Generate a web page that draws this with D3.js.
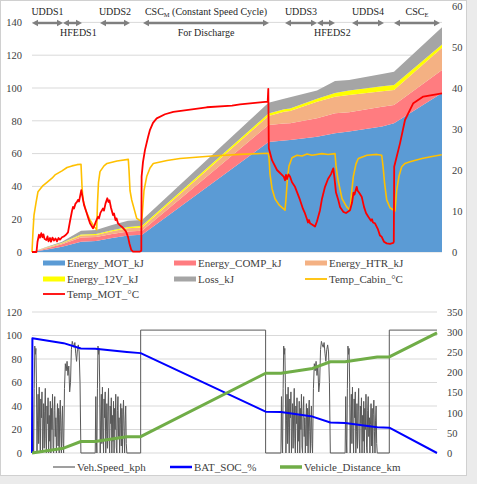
<!DOCTYPE html>
<html><head><meta charset="utf-8">
<script src="https://cdn.jsdelivr.net/npm/d3@7"></script>
<style>html,body{margin:0;padding:0;background:#fff;} svg{display:block;}</style>
</head><body><svg id="c" width="477" height="484" font-family="'Liberation Serif'"></svg>
<script>
// ---------------- DATA ----------------
// Time axis in arbitrary test-time units (0 .. 410)
const energyTime = [0,15,30,49,64,80,96,110,236.5,252,258,285,303,317,350,362,410];
const energyMOT  = [0,1.5,3.2,6.3,6.7,8.5,10,10.5,67,68,68.3,70.3,72.4,73.4,76.5,78.5,97];
const energyCOMP = [0,0.8,1.5,2.6,2.5,2.5,2.5,2.5,10.5,10.3,10.2,11.2,12.2,11.8,12,11.1,14];
const energyHTR  = [0,0.4,0.6,1.1,1.2,1.6,2.0,2.0,5.5,7.2,7.5,10.1,10.1,10.5,9.5,9.2,13.5];
const energy12V  = [0,0.2,0.3,0.6,0.6,0.6,0.8,1.0,1.5,1.5,1.5,1.9,2.3,2.7,3,3,2];
const lossKJ     = [0,0.3,0.7,2.4,2.4,3.3,3.7,3.5,6.5,6.5,6.8,4.9,7.3,6.5,7.5,8.1,10.5];

const tempCabin = [[0,0],[1,5],[2,9],[4,12],[6,14.7],[8,15.3],[11,16.2],[15,17],[20,18],[23,18.8],[30,19.8],[35,20.6],[40,21],[45,21.3],[49,21.4],[50,16],[51,12.7],[54,10],[58,7.8],[62,6.2],[64.7,5.4],[65.5,12],[66.5,17],[68,19.6],[72,21],[75,21.6],[85,22.2],[96.3,22.6],[97,20],[98,15],[99.7,12.7],[104.7,8.2],[109.7,7.4],[110.5,10],[112,15],[114.7,18.4],[118,20.5],[121.3,21.6],[135,22.3],[148,22.8],[180,23.4],[208,23.8],[236.3,24.1],[237,23],[238,19],[240,15.5],[243,13],[247,11.5],[253,10.2],[254,13],[255.5,18],[257,21],[260,23],[265,23.6],[270,23.4],[275,23.9],[280,23.6],[290,24],[296,23.8],[303,24],[304,21],[306,17.6],[310,13],[314.7,11],[318,10.2],[319,13],[321.3,18.4],[324,21.5],[326.3,22.8],[335,23.6],[345,23.8],[349.7,23.6],[351,21],[352.5,17],[354.7,12.7],[358,10.8],[363,10],[364.7,15.1],[367,18.5],[369.7,20.8],[373,21.6],[378,22],[390,22.8],[400,23.3],[409.7,23.7]];

const tempMOT = [[0,0],[4.5,0],[5.5,2.5],[7,4.2],[8,3.5],[9.3,4.6],[10.5,3.6],[11.5,4.3],[12.5,3.2],[14.3,2.9],[15.5,3.8],[16.5,2.6],[18,3.4],[19,2.5],[20.5,3.5],[22,2.8],[23.5,3.3],[25,2.6],[26.5,3.4],[28,3],[30,3.6],[32,3.8],[34,4.2],[36,4.8],[38,7.5],[40,10],[41,11],[42,10.6],[43.5,11.8],[45,12.2],[46,12.7],[47,12.3],[48,13.5],[49.3,15.1],[50.5,13.5],[52,11.5],[54.3,9.8],[56,8.5],[58,7],[61,5.8],[62.5,6.5],[64,7.5],[66,8.6],[67,8.2],[68.5,9.6],[71,10.6],[72,10.1],[73.5,11.8],[75.3,13.1],[76.5,12.2],[77.5,12.6],[79,10.8],[81,9],[82,9.4],[83.5,7.8],[84.5,8.2],[86,7],[88,6.5],[90,6.1],[92.7,5.4],[94,5],[96,3.7],[97.5,2],[99.3,0.5],[101,0.1],[108,0.1],[109.3,0.3],[109.6,18.4],[111,22],[113,24.9],[116,28],[118,29.8],[121,31.5],[124.7,32.6],[133,33.6],[141.3,34.2],[160,34.8],[174.7,35.3],[200,35.7],[208,36],[235.7,36.7],[236.3,39.8],[236.8,25.3],[240,22.4],[245,20],[251.7,18.4],[253,17.5],[254,18.8],[255,17.8],[256.5,18.9],[258,18.4],[260,17],[263,15.9],[266,14],[268,12.7],[271,10.5],[273,9.4],[275,8],[276,7.2],[277,7.8],[278,7],[280,6.7],[283,6.2],[285,7.5],[288,10.2],[290,13],[293,15.9],[296,17.8],[299,19],[301.3,20.4],[302.5,18],[304,14.5],[306.3,12.7],[308,11],[311.3,9.8],[314,9.5],[318,10.2],[320,12],[321.5,14.5],[322.5,14],[324.7,15.9],[325.5,15],[327,14.5],[329.7,13.5],[332,11],[334,9.5],[336.3,8.6],[338,8],[339,7.6],[340,8],[341,7.2],[343,7],[346,5.5],[348,4],[349.7,3.7],[352,2.5],[354.7,2.1],[358,2.0],[361.3,2.2],[361.8,2.5],[362.2,20.8],[368,26.5],[373,32.2],[381.3,36.3],[391.3,37.9],[410,38.7]];

// Vehicle speed: drive-cycle profiles (kph) placed at their phase times
const uddsProfile  = [0,48,12,0,55,91,84,89,60,0,28,50,8,56,22,0,46,30,52,0,18,42,4,35,55,12,0,40,25,47,0,32,10,44,0,38,20,50,5,0,36,48,14,30,0,24,42,6,38,0,33,45,18,0,28,40,8,0];
const hfedsProfile = [0,55,76,70,78,66,74,52,60,88,95,92,90,94,85,78,88,92,86,60,0];
const cscSpeed = 104.6;
const drivePhases = [
  {cycle:"UDDS",  t0:0,     t1:32},
  {cycle:"HFEDS", t0:32,    t1:49.5},
  {cycle:"UDDS",  t0:64,    t1:96},
  {cycle:"CSC",   t0:110,   t1:236.5},
  {cycle:"UDDS",  t0:252,   t1:284},
  {cycle:"HFEDS", t0:284,   t1:302},
  {cycle:"UDDS",  t0:317,   t1:349.5},
  {cycle:"CSC",   t0:361.7, t1:410, hold:true}
];
const batSOC = [[0,0],[0.4,97.6],[32,93.5],[49.5,89],[64,88.7],[96,86],[110,85],[236.5,35.2],[252,34.8],[284,31],[302,26],[317,25.5],[349.5,22],[361.7,21.5],[410,0]];
const vehDistance = [[0,0],[32,12],[49.5,28.5],[64,28.5],[96,40.5],[110,40.5],[236.5,198],[252,198],[284,210],[302,226.5],[317,226.5],[349.5,238.5],[361.7,238.5],[410,298]];

// Cycle annotations (arrow spans in time units)
const cycleNotes = [
  {text:"UDDS1",  t0:0,   t1:31,  row:"upper"},
  {text:"HFEDS1", t0:31,  t1:50,  row:"lower"},
  {text:"UDDS2",  t0:68,  t1:98,  row:"upper"},
  {text:"CSC", sub:"M", rest:" (Constant Speed Cycle)", t0:111, t1:237, row:"upper", note:"For Discharge"},
  {text:"UDDS3",  t0:253, t1:285, row:"upper"},
  {text:"HFEDS2", t0:285, t1:303, row:"lower"},
  {text:"UDDS4",  t0:320, t1:352, row:"upper"},
  {text:"CSC", sub:"E", rest:"", t0:362, t1:408, row:"upper"}
];

const topLeftTicks = [0,20,40,60,80,100,120,140];
const topRightTicks = [0,10,20,30,40,50,60];
const botLeftTicks = [0,20,40,60,80,100,120];
const botRightTicks = [0,50,100,150,200,250,300,350];

const energyKeys = ["Energy_MOT_kJ","Energy_COMP_kJ","Energy_HTR_kJ","Energy_12V_kJ","Loss_kJ"];
const energyColors = ["#5B9BD5","#FF7C80","#F4B183","#FFFF00","#A5A5A5"];
const topLegend = [
  {name:"Energy_MOT_kJ", color:"#5B9BD5", kind:"area"},
  {name:"Energy_COMP_kJ", color:"#FF7C80", kind:"area"},
  {name:"Energy_HTR_kJ", color:"#F4B183", kind:"area"},
  {name:"Energy_12V_kJ", color:"#FFFF00", kind:"area"},
  {name:"Loss_kJ", color:"#A5A5A5", kind:"area"},
  {name:"Temp_Cabin_°C", color:"#FFC000", kind:"line"},
  {name:"Temp_MOT_°C", color:"#FF0000", kind:"line"}
];
const botLegend = [
  {name:"Veh.Speed_kph", color:"#7F7F7F", w:1.5},
  {name:"BAT_SOC_%", color:"#0000FF", w:2.5},
  {name:"Vehicle_Distance_km", color:"#70AD47", w:3.5}
];

// ---------------- DRAW ----------------
const svg = d3.select("#c");
const textColor = "#404040", gridColor = "#D9D9D9";
const FONT = "'Liberation Serif'";

// frame
svg.append("rect").attr("x",0).attr("y",0).attr("width",477).attr("height",484).attr("fill","#fff");
svg.append("rect").attr("x",467).attr("y",0).attr("width",10).attr("height",484).attr("fill","#EBEBEB");
svg.append("rect").attr("x",0).attr("y",476).attr("width",477).attr("height",8).attr("fill","#EBEBEB");
svg.append("rect").attr("x",0.5).attr("y",0.5).attr("width",466).attr("height",475).attr("fill","#fff").attr("stroke","#D0D0D0");

// ---- TOP CHART ----
const T = {left:32, right:442, top:6, bottom:252};
const xT = d3.scaleLinear().domain([0,410]).range([T.left,T.right]);
const yTL = d3.scaleLinear().domain([0,150]).range([T.bottom,T.top]);
const yTR = d3.scaleLinear().domain([0,60]).range([T.bottom,T.top]);

const gT = svg.append("g");
gT.selectAll("line.grid").data(topLeftTicks).join("line")
  .attr("x1",T.left).attr("x2",T.right).attr("y1",d=>yTL(d)).attr("y2",d=>yTL(d))
  .attr("stroke",gridColor).attr("stroke-width",1);

const energyTable = energyTime.map((t,i)=>({t,
  "Energy_MOT_kJ":energyMOT[i],"Energy_COMP_kJ":energyCOMP[i],"Energy_HTR_kJ":energyHTR[i],
  "Energy_12V_kJ":energy12V[i],"Loss_kJ":lossKJ[i]}));
const stacked = d3.stack().keys(energyKeys)(energyTable);
const area = d3.area().x(d=>xT(d.data.t)).y0(d=>yTL(d[0])).y1(d=>yTL(d[1]));
gT.selectAll("path.layer").data(stacked).join("path")
  .attr("d",area).attr("fill",(d,i)=>energyColors[i]);

const lineT = d3.line().x(d=>xT(d[0])).y(d=>yTR(d[1]));
gT.append("path").attr("d",lineT(tempCabin)).attr("fill","none").attr("stroke","#FFC000").attr("stroke-width",1.6).attr("stroke-linejoin","round");
gT.append("path").attr("d",lineT(tempMOT)).attr("fill","none").attr("stroke","#FF0000").attr("stroke-width",1.8).attr("stroke-linejoin","round");

// axes
const axTL = d3.axisLeft(yTL).tickValues(topLeftTicks).tickSize(0).tickPadding(10);
const axTR = d3.axisRight(yTR).tickValues(topRightTicks).tickSize(0).tickPadding(10);
function styleAxis(g){ g.attr("font-family",FONT).attr("font-size",10.5); g.select(".domain").remove(); g.selectAll("text").attr("fill",textColor); }
gT.append("g").attr("transform",`translate(${T.left},0)`).call(axTL).call(styleAxis);
gT.append("g").attr("transform",`translate(${T.right},0)`).call(axTR).call(styleAxis);

// cycle annotations
const arrowY = 23, arrowCol = "#7F7F7F";
cycleNotes.forEach(n=>{
  const a = xT(n.t0), b = xT(n.t1), hl = 6, hw = 3.3;
  gT.append("line").attr("x1",a+hl-1).attr("x2",b-hl+1).attr("y1",arrowY).attr("y2",arrowY).attr("stroke",arrowCol).attr("stroke-width",2.4);
  gT.append("path").attr("d",`M${a},${arrowY}L${a+hl},${arrowY-hw}L${a+hl},${arrowY+hw}Z M${b},${arrowY}L${b-hl},${arrowY-hw}L${b-hl},${arrowY+hw}Z`).attr("fill",arrowCol);
  const txt = gT.append("text").attr("fill","#262626").attr("font-family",FONT).attr("font-size",10);
  if(n.row==="upper"){
    txt.attr("x",(a+b)/2).attr("y",15).attr("text-anchor","middle");
  } else {
    txt.attr("x",a-3).attr("y",36).attr("text-anchor","start");
  }
  txt.append("tspan").text(n.text);
  if(n.sub){
    txt.append("tspan").attr("font-size",6.5).attr("dy",2).text(n.sub);
    txt.append("tspan").attr("dy",-2).text(n.rest);
  }
  if(n.note){
    gT.append("text").attr("x",(a+b)/2).attr("y",36).attr("text-anchor","middle").attr("fill","#262626").attr("font-family",FONT).attr("font-size",10).text(n.note);
  }
});

// top legend
const colX = [43,174,305], rowY = [263,279,294];
topLegend.forEach((d,i)=>{
  const cx = colX[i%3], cy = rowY[Math.floor(i/3)];
  const g = svg.append("g");
  if(d.kind==="area") g.append("rect").attr("x",cx).attr("y",cy-2.5).attr("width",22).attr("height",5).attr("fill",d.color);
  else g.append("line").attr("x1",cx).attr("x2",cx+22).attr("y1",cy).attr("y2",cy).attr("stroke",d.color).attr("stroke-width",1.8);
  g.append("text").attr("x",cx+24).attr("y",cy+3.8).attr("fill",textColor).attr("font-family",FONT).attr("font-size",11).text(d.name);
});

// ---- BOTTOM CHART ----
const B = {left:32, right:437, top:312, bottom:453};
const xB = d3.scaleLinear().domain([0,410]).range([B.left,B.right]);
const yBL = d3.scaleLinear().domain([0,120]).range([B.bottom,B.top]);
const yBR = d3.scaleLinear().domain([0,350]).range([B.bottom,B.top]);
const gB = svg.append("g");
gB.selectAll("line.grid").data(botLeftTicks).join("line")
  .attr("x1",B.left).attr("x2",B.right).attr("y1",d=>yBL(d)).attr("y2",d=>yBL(d))
  .attr("stroke",gridColor).attr("stroke-width",1);

// speed points from phases
const speedPts = [[0,0]];
drivePhases.forEach(p=>{
  if(p.cycle==="CSC"){
    speedPts.push([p.t0,0],[p.t0,cscSpeed],[p.t1,cscSpeed]);
    if(!p.hold) speedPts.push([p.t1,0]);
  } else {
    const prof = p.cycle==="UDDS" ? uddsProfile : hfedsProfile;
    prof.forEach((v,i)=>speedPts.push([p.t0 + i*(p.t1-p.t0)/(prof.length-1), v]));
  }
});
const lineBL = d3.line().x(d=>xB(d[0])).y(d=>yBL(d[1]));
const lineBR = d3.line().x(d=>xB(d[0])).y(d=>yBR(d[1]));
gB.append("path").attr("d",lineBL(speedPts)).attr("fill","none").attr("stroke","#595959").attr("stroke-width",1).attr("stroke-linejoin","round");
gB.append("path").attr("d",lineBL(batSOC)).attr("fill","none").attr("stroke","#0000FF").attr("stroke-width",2).attr("stroke-linejoin","round");
gB.append("path").attr("d",lineBR(vehDistance)).attr("fill","none").attr("stroke","#70AD47").attr("stroke-width",3).attr("stroke-linejoin","round");

const axBL = d3.axisLeft(yBL).tickValues(botLeftTicks).tickSize(0).tickPadding(10);
const axBR = d3.axisRight(yBR).tickValues(botRightTicks).tickSize(0).tickPadding(10);
gB.append("g").attr("transform",`translate(${B.left},0)`).call(axBL).call(styleAxis);
gB.append("g").attr("transform",`translate(${B.right},0)`).call(axBR).call(styleAxis);

// bottom legend
const bColX = [53,170,280], bY = 467;
botLegend.forEach((d,i)=>{
  const g = svg.append("g");
  g.append("line").attr("x1",bColX[i]).attr("x2",bColX[i]+22).attr("y1",bY).attr("y2",bY).attr("stroke",d.color).attr("stroke-width",d.w);
  g.append("text").attr("x",bColX[i]+24).attr("y",bY+3.8).attr("fill",textColor).attr("font-family",FONT).attr("font-size",11).text(d.name);
});
</script></body></html>
